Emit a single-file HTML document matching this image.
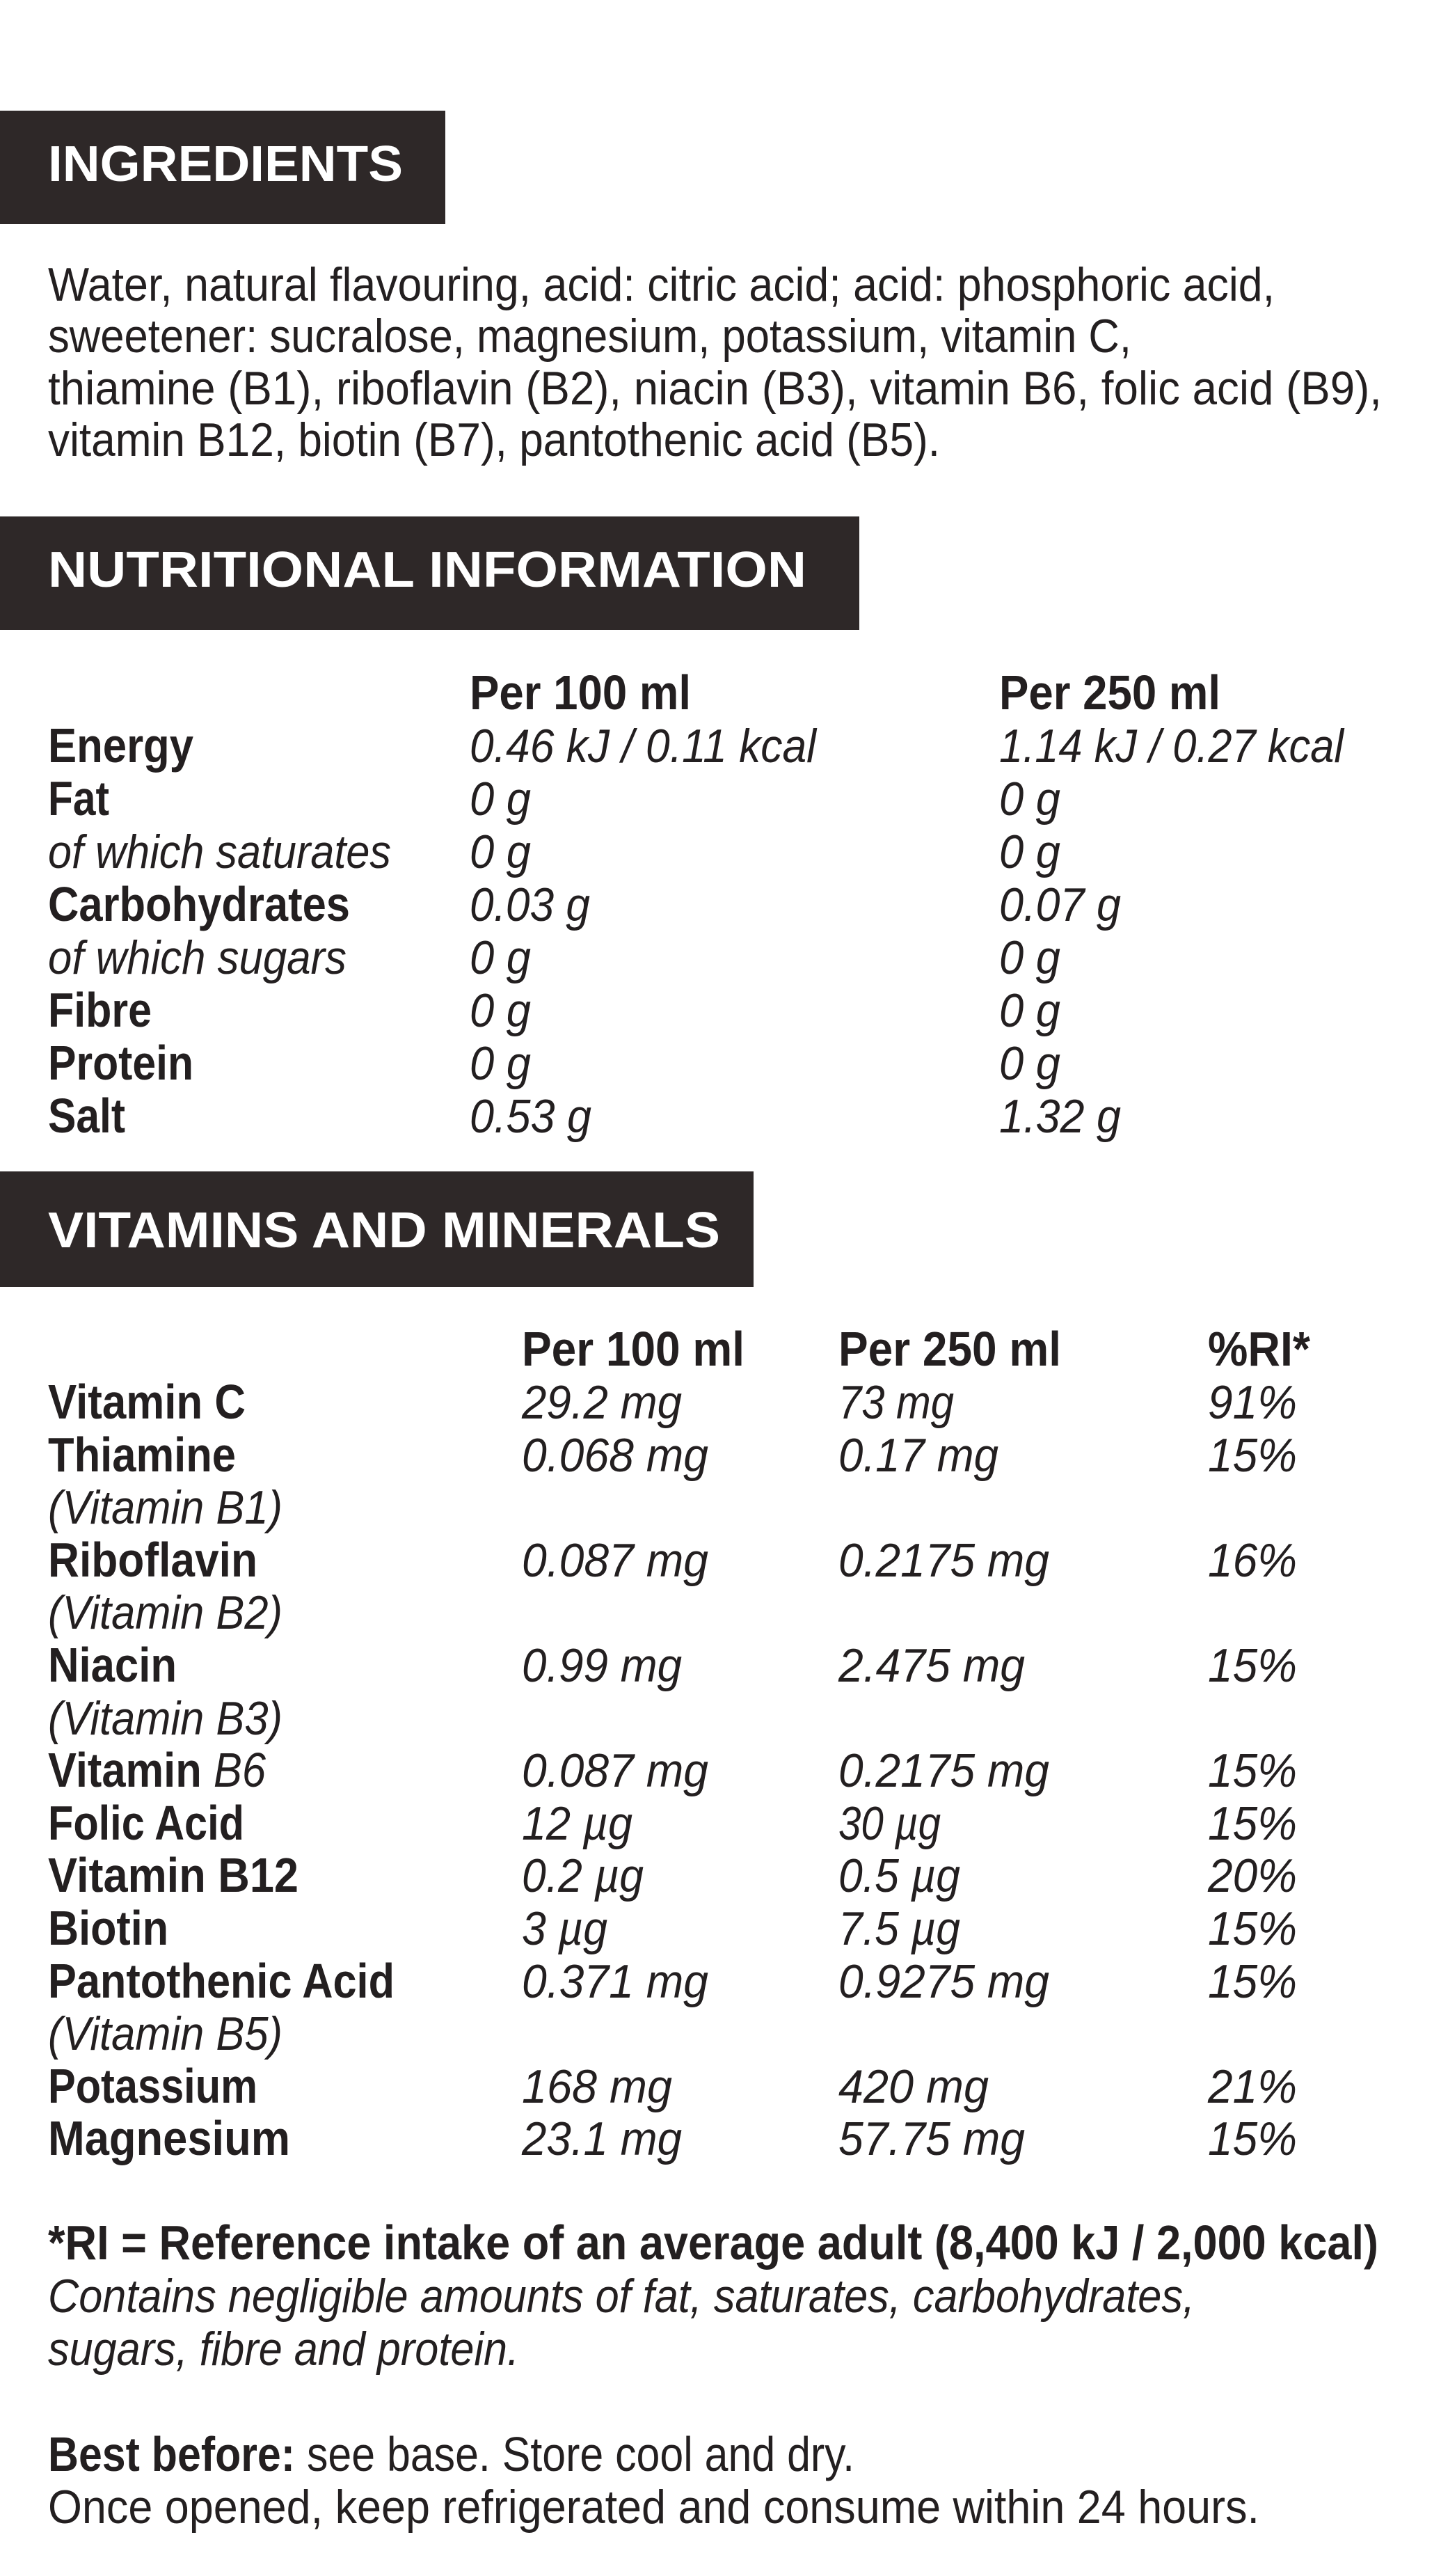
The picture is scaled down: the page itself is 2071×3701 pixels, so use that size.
<!DOCTYPE html>
<html><head><meta charset="utf-8"><style>
html,body{margin:0;padding:0;background:#fff;}
svg{display:block;}
text{font-family:"Liberation Sans",sans-serif;fill:#231f20;}
.h{font-weight:bold;fill:#fff;font-size:72px;}
.b{font-weight:bold;font-size:70px;}
.r{font-size:68px;}
.i{font-style:italic;font-size:68px;}
</style></head><body>
<svg width="2071" height="3701" viewBox="0 0 2071 3701" xmlns="http://www.w3.org/2000/svg">
<rect width="2071" height="3701" fill="#fff"/>
<g>
<rect x="0" y="159" width="640" height="163" fill="#2e2828"/>
<text class="h" x="69" y="260" textLength="510" lengthAdjust="spacingAndGlyphs">INGREDIENTS</text>
<text class="r" x="69" y="432" textLength="1763" lengthAdjust="spacingAndGlyphs">Water, natural flavouring, acid: citric acid; acid: phosphoric acid,</text>
<text class="r" x="69" y="506" textLength="1557" lengthAdjust="spacingAndGlyphs">sweetener: sucralose, magnesium, potassium, vitamin C,</text>
<text class="r" x="69" y="581" textLength="1917" lengthAdjust="spacingAndGlyphs">thiamine (B1), riboflavin (B2), niacin (B3), vitamin B6, folic acid (B9),</text>
<text class="r" x="69" y="655" textLength="1282" lengthAdjust="spacingAndGlyphs">vitamin B12, biotin (B7), pantothenic acid (B5).</text>

<rect x="0" y="742" width="1235" height="163" fill="#2e2828"/>
<text class="h" x="69" y="843" textLength="1090" lengthAdjust="spacingAndGlyphs">NUTRITIONAL INFORMATION</text>
<text class="b" x="675" y="1019" textLength="318" lengthAdjust="spacingAndGlyphs">Per 100 ml</text>
<text class="b" x="1436" y="1019" textLength="318" lengthAdjust="spacingAndGlyphs">Per 250 ml</text>

<text class="b" x="69" y="1095" textLength="209" lengthAdjust="spacingAndGlyphs">Energy</text>
<text class="i" x="675" y="1095" textLength="498" lengthAdjust="spacingAndGlyphs">0.46 kJ / 0.11 kcal</text>
<text class="i" x="1436" y="1095" textLength="495" lengthAdjust="spacingAndGlyphs">1.14 kJ / 0.27 kcal</text>

<text class="b" x="69" y="1171" textLength="88" lengthAdjust="spacingAndGlyphs">Fat</text>
<text class="i" x="675" y="1171" textLength="88" lengthAdjust="spacingAndGlyphs">0 g</text>
<text class="i" x="1436" y="1171" textLength="88" lengthAdjust="spacingAndGlyphs">0 g</text>

<text class="i" x="69" y="1247" textLength="493" lengthAdjust="spacingAndGlyphs">of which saturates</text>
<text class="i" x="675" y="1247" textLength="88" lengthAdjust="spacingAndGlyphs">0 g</text>
<text class="i" x="1436" y="1247" textLength="88" lengthAdjust="spacingAndGlyphs">0 g</text>

<text class="b" x="69" y="1323" textLength="434" lengthAdjust="spacingAndGlyphs">Carbohydrates</text>
<text class="i" x="675" y="1323" textLength="173" lengthAdjust="spacingAndGlyphs">0.03 g</text>
<text class="i" x="1436" y="1323" textLength="175" lengthAdjust="spacingAndGlyphs">0.07 g</text>

<text class="i" x="69" y="1399" textLength="429" lengthAdjust="spacingAndGlyphs">of which sugars</text>
<text class="i" x="675" y="1399" textLength="88" lengthAdjust="spacingAndGlyphs">0 g</text>
<text class="i" x="1436" y="1399" textLength="88" lengthAdjust="spacingAndGlyphs">0 g</text>

<text class="b" x="69" y="1475" textLength="149" lengthAdjust="spacingAndGlyphs">Fibre</text>
<text class="i" x="675" y="1475" textLength="88" lengthAdjust="spacingAndGlyphs">0 g</text>
<text class="i" x="1436" y="1475" textLength="88" lengthAdjust="spacingAndGlyphs">0 g</text>

<text class="b" x="69" y="1551" textLength="209" lengthAdjust="spacingAndGlyphs">Protein</text>
<text class="i" x="675" y="1551" textLength="88" lengthAdjust="spacingAndGlyphs">0 g</text>
<text class="i" x="1436" y="1551" textLength="88" lengthAdjust="spacingAndGlyphs">0 g</text>

<text class="b" x="69" y="1627" textLength="111" lengthAdjust="spacingAndGlyphs">Salt</text>
<text class="i" x="675" y="1627" textLength="175" lengthAdjust="spacingAndGlyphs">0.53 g</text>
<text class="i" x="1436" y="1627" textLength="175" lengthAdjust="spacingAndGlyphs">1.32 g</text>

<rect x="0" y="1683" width="1083" height="166" fill="#2e2828"/>
<text class="h" x="69" y="1792" textLength="966" lengthAdjust="spacingAndGlyphs">VITAMINS AND MINERALS</text>
<text class="b" x="750" y="1962" textLength="320" lengthAdjust="spacingAndGlyphs">Per 100 ml</text>
<text class="b" x="1205" y="1962" textLength="320" lengthAdjust="spacingAndGlyphs">Per 250 ml</text>
<text class="b" x="1736" y="1962" textLength="147" lengthAdjust="spacingAndGlyphs">%RI*</text>

<text class="b" x="69" y="2038" textLength="284" lengthAdjust="spacingAndGlyphs">Vitamin C</text>
<text class="i" x="750" y="2038" textLength="230" lengthAdjust="spacingAndGlyphs">29.2 mg</text>
<text class="i" x="1205" y="2038" textLength="166" lengthAdjust="spacingAndGlyphs">73 mg</text>
<text class="i" x="1736" y="2038" textLength="128" lengthAdjust="spacingAndGlyphs">91%</text>

<text class="b" x="69" y="2114" textLength="270" lengthAdjust="spacingAndGlyphs">Thiamine</text>
<text class="i" x="750" y="2114" textLength="268" lengthAdjust="spacingAndGlyphs">0.068 mg</text>
<text class="i" x="1205" y="2114" textLength="230" lengthAdjust="spacingAndGlyphs">0.17 mg</text>
<text class="i" x="1736" y="2114" textLength="128" lengthAdjust="spacingAndGlyphs">15%</text>
<text class="i" x="69" y="2189" textLength="337" lengthAdjust="spacingAndGlyphs">(Vitamin B1)</text>

<text class="b" x="69" y="2265" textLength="301" lengthAdjust="spacingAndGlyphs">Riboflavin</text>
<text class="i" x="750" y="2265" textLength="268" lengthAdjust="spacingAndGlyphs">0.087 mg</text>
<text class="i" x="1205" y="2265" textLength="303" lengthAdjust="spacingAndGlyphs">0.2175 mg</text>
<text class="i" x="1736" y="2265" textLength="128" lengthAdjust="spacingAndGlyphs">16%</text>
<text class="i" x="69" y="2340" textLength="337" lengthAdjust="spacingAndGlyphs">(Vitamin B2)</text>

<text class="b" x="69" y="2416" textLength="185" lengthAdjust="spacingAndGlyphs">Niacin</text>
<text class="i" x="750" y="2416" textLength="230" lengthAdjust="spacingAndGlyphs">0.99 mg</text>
<text class="i" x="1205" y="2416" textLength="268" lengthAdjust="spacingAndGlyphs">2.475 mg</text>
<text class="i" x="1736" y="2416" textLength="128" lengthAdjust="spacingAndGlyphs">15%</text>
<text class="i" x="69" y="2492" textLength="337" lengthAdjust="spacingAndGlyphs">(Vitamin B3)</text>

<text class="b" x="69" y="2567" textLength="313" lengthAdjust="spacingAndGlyphs">Vitamin <tspan font-weight="normal" font-style="italic">B6</tspan></text>
<text class="i" x="750" y="2567" textLength="268" lengthAdjust="spacingAndGlyphs">0.087 mg</text>
<text class="i" x="1205" y="2567" textLength="303" lengthAdjust="spacingAndGlyphs">0.2175 mg</text>
<text class="i" x="1736" y="2567" textLength="128" lengthAdjust="spacingAndGlyphs">15%</text>

<text class="b" x="69" y="2643" textLength="282" lengthAdjust="spacingAndGlyphs">Folic Acid</text>
<text class="i" x="750" y="2643" textLength="159" lengthAdjust="spacingAndGlyphs">12 µg</text>
<text class="i" x="1205" y="2643" textLength="147" lengthAdjust="spacingAndGlyphs">30 µg</text>
<text class="i" x="1736" y="2643" textLength="128" lengthAdjust="spacingAndGlyphs">15%</text>

<text class="b" x="69" y="2718" textLength="360" lengthAdjust="spacingAndGlyphs">Vitamin B12</text>
<text class="i" x="750" y="2718" textLength="175" lengthAdjust="spacingAndGlyphs">0.2 µg</text>
<text class="i" x="1205" y="2718" textLength="175" lengthAdjust="spacingAndGlyphs">0.5 µg</text>
<text class="i" x="1736" y="2718" textLength="128" lengthAdjust="spacingAndGlyphs">20%</text>

<text class="b" x="69" y="2794" textLength="173" lengthAdjust="spacingAndGlyphs">Biotin</text>
<text class="i" x="750" y="2794" textLength="123" lengthAdjust="spacingAndGlyphs">3 µg</text>
<text class="i" x="1205" y="2794" textLength="175" lengthAdjust="spacingAndGlyphs">7.5 µg</text>
<text class="i" x="1736" y="2794" textLength="128" lengthAdjust="spacingAndGlyphs">15%</text>

<text class="b" x="69" y="2870" textLength="498" lengthAdjust="spacingAndGlyphs">Pantothenic Acid</text>
<text class="i" x="750" y="2870" textLength="268" lengthAdjust="spacingAndGlyphs">0.371 mg</text>
<text class="i" x="1205" y="2870" textLength="303" lengthAdjust="spacingAndGlyphs">0.9275 mg</text>
<text class="i" x="1736" y="2870" textLength="128" lengthAdjust="spacingAndGlyphs">15%</text>
<text class="i" x="69" y="2945" textLength="337" lengthAdjust="spacingAndGlyphs">(Vitamin B5)</text>

<text class="b" x="69" y="3021" textLength="301" lengthAdjust="spacingAndGlyphs">Potassium</text>
<text class="i" x="750" y="3021" textLength="216" lengthAdjust="spacingAndGlyphs">168 mg</text>
<text class="i" x="1205" y="3021" textLength="216" lengthAdjust="spacingAndGlyphs">420 mg</text>
<text class="i" x="1736" y="3021" textLength="128" lengthAdjust="spacingAndGlyphs">21%</text>

<text class="b" x="69" y="3096" textLength="348" lengthAdjust="spacingAndGlyphs">Magnesium</text>
<text class="i" x="750" y="3096" textLength="230" lengthAdjust="spacingAndGlyphs">23.1 mg</text>
<text class="i" x="1205" y="3096" textLength="268" lengthAdjust="spacingAndGlyphs">57.75 mg</text>
<text class="i" x="1736" y="3096" textLength="128" lengthAdjust="spacingAndGlyphs">15%</text>

<text class="b" x="69" y="3246" textLength="1912" lengthAdjust="spacingAndGlyphs">*RI = Reference intake of an average adult (8,400 kJ / 2,000 kcal)</text>
<text class="i" x="69" y="3322" textLength="1648" lengthAdjust="spacingAndGlyphs">Contains negligible amounts of fat, saturates, carbohydrates,</text>
<text class="i" x="69" y="3398" textLength="677" lengthAdjust="spacingAndGlyphs">sugars, fibre and protein.</text>
<text class="b" x="69" y="3550" textLength="1159" lengthAdjust="spacingAndGlyphs">Best before: <tspan font-weight="normal">see base. Store cool and dry.</tspan></text>
<text class="r" x="69" y="3625" textLength="1741" lengthAdjust="spacingAndGlyphs">Once opened, keep refrigerated and consume within 24 hours.</text>
</g>
</svg>
</body></html>
